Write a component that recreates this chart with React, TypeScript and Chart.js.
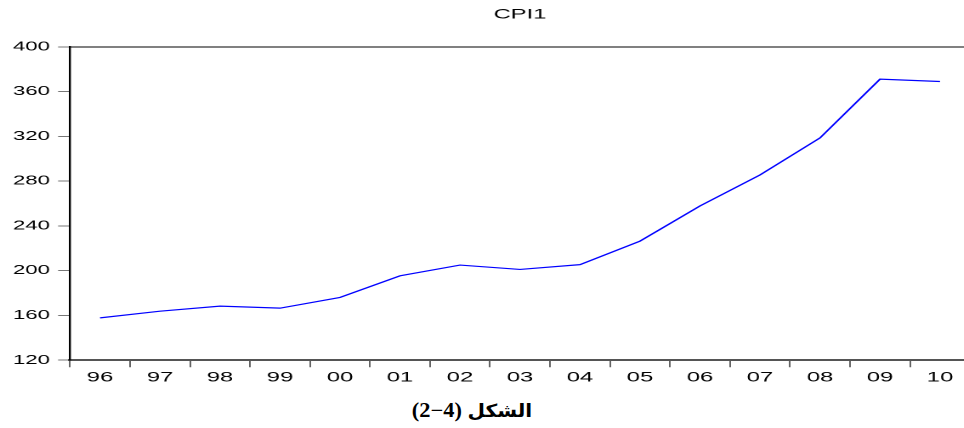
import React, { useEffect, useRef } from "react";
import { Chart, registerables } from "chart.js";

Chart.register(...registerables);

// ---- data ----
const categories = ["96", "97", "98", "99", "00", "01", "02", "03", "04", "05", "06", "07", "08", "09", "10"];
const cpi1 = [157.8, 163.8, 168.3, 166.5, 176.1, 195.4, 205.0, 201.1, 205.4, 226.4, 257.8, 285.5, 318.6, 371.1, 369.0];
const yMin = 120;
const yMax = 400;
const yStep = 40;
const chartTitle = "CPI1";
const captionText = "(2−4)";
const captionWord = "الشكل";

// ---- layout (the reference is horizontally stretched) ----
const SX = 1.7;
const LOGICAL_W = 576;
const H = 388;
const PLOT_LEFT = 70;
const PLOT_RIGHT = 970;

export default function App() {
  const ref = useRef<HTMLCanvasElement | null>(null);

  useEffect(() => {
    const canvas = ref.current;
    if (!canvas) return;
    const chart = new Chart(canvas, {
      type: "line",
      data: {
        labels: categories,
        datasets: [
          {
            label: chartTitle,
            data: cpi1,
            borderColor: "#0000ff",
            backgroundColor: "#0000ff",
            borderWidth: 1.2,
            pointRadius: 0,
            tension: 0,
            fill: false,
          },
        ],
      },
      options: {
        animation: false,
        responsive: false,
        devicePixelRatio: 2,
        layout: { padding: { left: 0, right: LOGICAL_W - PLOT_RIGHT / SX, top: 0, bottom: 0 } },
        plugins: {
          legend: { display: false },
          tooltip: { enabled: false },
          title: {
            display: true,
            text: chartTitle,
            fullSize: false,
            color: "#000",
            font: { family: "'Liberation Sans', Arial, sans-serif", size: 14, weight: "normal" },
            padding: { top: 6, bottom: 24 },
          },
        },
        scales: {
          x: {
            type: "category",
            offset: true,
            position: "bottom",
            grid: {
              offset: true,
              drawOnChartArea: false,
              drawTicks: true,
              tickLength: 7,
              color: "#222",
              lineWidth: 0.7,
            },
            border: { display: true, color: "#555", width: 2 },
            ticks: {
              color: "#000",
              padding: 2,
              maxRotation: 0,
              autoSkip: false,
              font: { family: "'Liberation Sans', Arial, sans-serif", size: 14 },
            },
          },
          x2: {
            type: "category",
            labels: categories,
            offset: true,
            position: "top",
            grid: { display: true, drawOnChartArea: false, drawTicks: false },
            border: { display: true, color: "#000", width: 1 },
            ticks: { display: false },
            afterFit: (scale: any) => {
              scale.height = 0;
            },
          },
          y: {
            min: yMin,
            max: yMax,
            ticks: {
              stepSize: yStep,
              color: "#000",
              padding: 4.8,
              font: { family: "'Liberation Sans', Arial, sans-serif", size: 13 },
            },
            grid: {
              drawOnChartArea: false,
              drawTicks: true,
              tickLength: 7,
              color: "#777",
              lineWidth: 1,
            },
            border: { display: true, color: "#000", width: 1.2 },
            afterFit: (scale: any) => {
              scale.width = PLOT_LEFT / SX;
            },
          },
        },
      },
    });
    return () => chart.destroy();
  }, []);

  return (
    <div
      style={{
        position: "fixed",
        left: 0,
        top: 0,
        width: 964,
        height: 428,
        overflow: "hidden",
        background: "#fff",
      }}
    >
      <canvas
        ref={ref}
        width={LOGICAL_W}
        height={H}
        style={{
          position: "absolute",
          left: 0,
          top: 0,
          transform: `scaleX(${SX})`,
          transformOrigin: "0 0",
        }}
      />
      <div
        style={{
          position: "absolute",
          left: 472,
          top: 398,
          transform: "translateX(-50%) scaleX(1.12)",
          whiteSpace: "nowrap",
          fontFamily: "'Liberation Serif', 'DejaVu Sans', serif",
          fontWeight: "bold",
          fontSize: 20,
          lineHeight: "24px",
          color: "#000",
          direction: "ltr",
        }}
      >
        <span>{captionText}</span> <span style={{ fontFamily: "'DejaVu Sans', sans-serif", fontSize: 18 }}>{captionWord}</span>
      </div>
    </div>
  );
}
